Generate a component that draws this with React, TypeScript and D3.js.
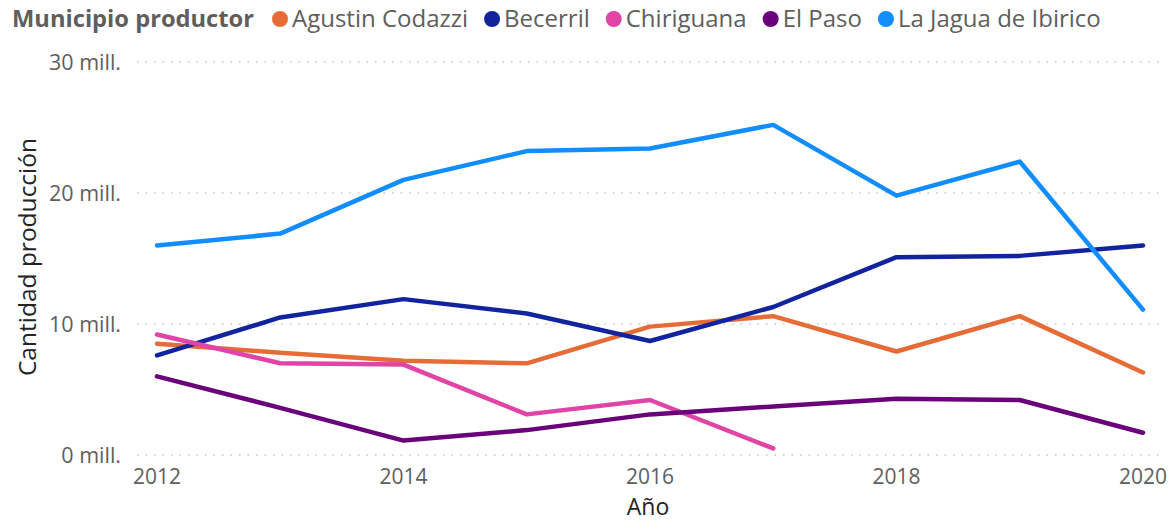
import React, { useEffect, useRef } from 'react';
import * as d3 from 'd3';

const years = [2012, 2013, 2014, 2015, 2016, 2017, 2018, 2019, 2020];
const seriesNames = ['Agustin Codazzi', 'Becerril', 'Chiriguana', 'El Paso', 'La Jagua de Ibirico'];
const seriesColors = ['#E66C37', '#12239E', '#E044A7', '#6B007B', '#118DFF'];

// values in millions
const agustinCodazzi = [8.5, 7.8, 7.2, 7.0, 9.8, 10.6, 7.9, 10.6, 6.3];
const becerril = [7.6, 10.5, 11.9, 10.8, 8.7, 11.3, 15.1, 15.2, 16.0];
const chiriguana = [9.2, 7.0, 6.9, 3.1, 4.2, 0.5];
const elPaso = [6.0, 3.6, 1.1, 1.9, 3.1, 3.7, 4.3, 4.2, 1.7];
const laJagua = [16.0, 16.9, 21.0, 23.2, 23.4, 25.2, 19.8, 22.4, 11.1];

const yTicks = [0, 10, 20, 30];
const xTicks = [2012, 2014, 2016, 2018, 2020];

const FONT = "'Segoe UI', 'Open Sans', 'Noto Sans', sans-serif";

export default function App() {
  const svgRef = useRef<SVGSVGElement>(null);

  useEffect(() => {
    document.body.style.margin = '0';
    const svg = d3.select(svgRef.current);
    svg.selectAll('*').remove();

    const x = d3.scaleLinear().domain([2012, 2020]).range([157, 1143]);
    const y = d3.scaleLinear().domain([0, 30]).range([455, 62]);

    // grid
    svg.append('g')
      .selectAll('line')
      .data(yTicks)
      .enter().append('line')
      .attr('x1', 137)
      .attr('x2', 1162)
      .attr('y1', (d) => y(d))
      .attr('y2', (d) => y(d))
      .attr('stroke', '#C8C6C4')
      .attr('stroke-width', 1.5)
      .attr('stroke-dasharray', '1.5,7');

    // y tick labels
    svg.append('g')
      .selectAll('text')
      .data(yTicks)
      .enter().append('text')
      .attr('x', 121)
      .attr('y', (d) => y(d))
      .attr('dy', '0.35em')
      .attr('text-anchor', 'end')
      .style('font-family', FONT)
      .style('font-size', '21.5px')
      .style('fill', '#605E5C')
      .text((d) => `${d} mill.`);

    // x tick labels
    svg.append('g')
      .selectAll('text')
      .data(xTicks)
      .enter().append('text')
      .attr('x', (d) => x(d))
      .attr('y', 477)
      .attr('dy', '0.35em')
      .attr('text-anchor', 'middle')
      .style('font-family', FONT)
      .style('font-size', '21px')
      .style('fill', '#605E5C')
      .text((d) => String(d));

    // axis titles
    svg.append('text')
      .attr('x', 648)
      .attr('y', 507)
      .attr('dy', '0.35em')
      .attr('text-anchor', 'middle')
      .style('font-family', FONT)
      .style('font-size', '23px')
      .style('fill', '#252423')
      .text('Año');

    svg.append('text')
      .attr('transform', 'translate(27,257) rotate(-90)')
      .attr('dy', '0.35em')
      .attr('text-anchor', 'middle')
      .style('font-family', FONT)
      .style('font-size', '24.5px')
      .style('fill', '#252423')
      .text('Cantidad producción');

    // lines
    const allSeries = [agustinCodazzi, becerril, chiriguana, elPaso, laJagua];
    const line = d3.line<number>()
      .x((_, i) => x(years[i]))
      .y((d) => y(d));

    allSeries.forEach((vals, i) => {
      svg.append('path')
        .datum(vals)
        .attr('fill', 'none')
        .attr('stroke', seriesColors[i])
        .attr('stroke-width', 4.5)
        .attr('stroke-linejoin', 'round')
        .attr('stroke-linecap', 'round')
        .attr('d', line);
    });

    // legend
    const legend = svg.append('g');
    const title = legend.append('text')
      .attr('x', 12)
      .attr('y', 19)
      .attr('dy', '0.35em')
      .style('font-family', FONT)
      .style('font-size', '23.7px')
      .style('font-weight', 'bold')
      .style('fill', '#605E5C')
      .text('Municipio productor');
    let cx = 12 + (title.node() as SVGTextElement).getComputedTextLength() + 26;
    seriesNames.forEach((name, i) => {
      legend.append('circle')
        .attr('cx', cx)
        .attr('cy', 19)
        .attr('r', 8)
        .attr('fill', seriesColors[i]);
      const t = legend.append('text')
        .attr('x', cx + 12)
        .attr('y', 19)
        .attr('dy', '0.35em')
        .style('font-family', FONT)
        .style('font-size', '24px')
        .style('fill', '#605E5C')
        .text(name);
      cx += 12 + (t.node() as SVGTextElement).getComputedTextLength() + 24;
    });
  }, []);

  return <svg ref={svgRef} width={1172} height={525} style={{ display: 'block', background: '#fff' }} />;
}
